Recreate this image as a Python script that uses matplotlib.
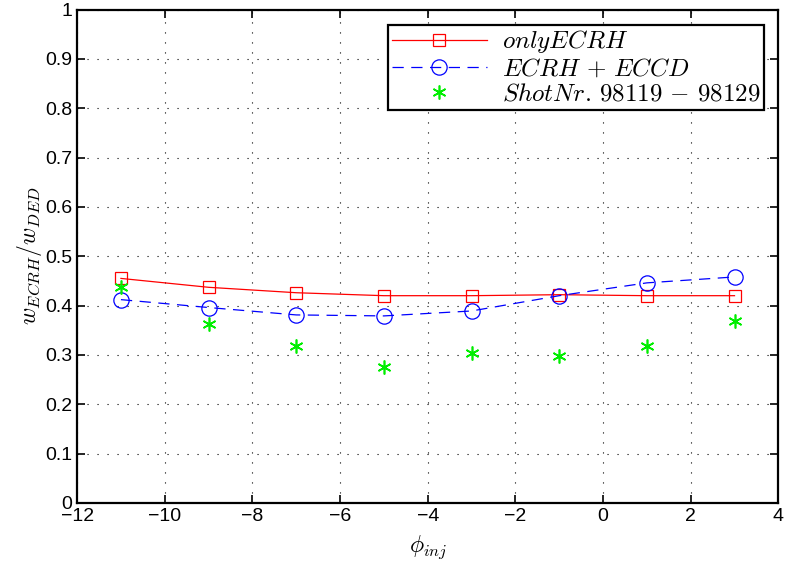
import matplotlib
matplotlib.use('Agg')
from matplotlib import pyplot as plt
import numpy as np

# injection angle and normalised energy ratios
phi = [-11, -9, -7, -5, -3, -1, 1, 3]
only_ecrh = [0.455, 0.437, 0.426, 0.420, 0.420, 0.422, 0.420, 0.420]
ecrh_eccd = [0.412, 0.396, 0.381, 0.379, 0.389, 0.420, 0.446, 0.458]
shots = [0.438, 0.363, 0.318, 0.276, 0.304, 0.298, 0.318, 0.368]

plt.rcParams['font.family'] = ['Liberation Sans', 'DejaVu Sans']
plt.rcParams['mathtext.fontset'] = 'cm'

fig = plt.figure(figsize=(7.87, 5.65), dpi=100)
ax = fig.add_axes([0.098, 0.110, 0.891, 0.873])

ax.plot(phi, only_ecrh, color='red', linestyle='-', linewidth=0.9, marker='s',
        markersize=8.5, markerfacecolor='none', markeredgecolor='red', markeredgewidth=0.9,
        label=r'$only ECRH$')
ax.plot(phi, ecrh_eccd, color='blue', linestyle=(0, (9, 6)), linewidth=0.9, marker='o',
        markersize=11, markerfacecolor='none', markeredgecolor='blue', markeredgewidth=0.9,
        label=r'$ECRH\,+\,ECCD$')
ax.plot(phi, shots, color='#00ee00', linestyle='none', marker=(6, 2, 0), markersize=10,
        markeredgewidth=1.2, label=r'$Shot Nr.\,98119\,-\,98129$')

ax.set_xlim(-12, 4)
ax.set_ylim(0, 1)
ax.set_xticks(np.arange(-12, 5, 2))
ax.set_yticks(np.arange(0, 1.01, 0.1))
ax.set_yticklabels(['0', '0.1', '0.2', '0.3', '0.4', '0.5', '0.6', '0.7', '0.8', '0.9', '1'])
ax.tick_params(direction='in', top=True, right=True, length=6, width=1.2, labelsize=14,
               colors='black')
for s in ax.spines.values():
    s.set_linewidth(1.6)
    s.set_color('black')
ax.grid(True, color='black', linestyle=(0, (1, 8)), linewidth=0.8)

ax.set_xlabel(r'$\phi_{inj}$', fontsize=17, labelpad=6)
ax.set_ylabel(r'$w_{ECRH}/w_{DED}$', fontsize=17, labelpad=1)

leg = ax.legend(loc='upper right', fontsize=18, frameon=True, fancybox=False, framealpha=1,
                edgecolor='black', borderpad=0.15, labelspacing=0.05, handlelength=3.8,
                handletextpad=0.6, bbox_to_anchor=(0.9975, 0.995))
leg.get_frame().set_linewidth(1.6)

fig.savefig('out.png', dpi=100)
